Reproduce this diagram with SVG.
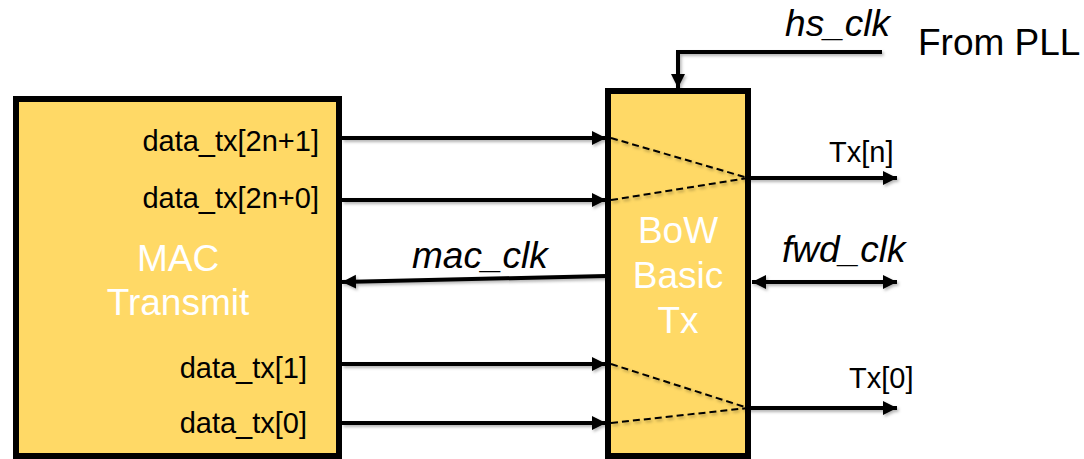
<svg xmlns="http://www.w3.org/2000/svg" width="1084" height="459" viewBox="0 0 1084 459">
<style>
.box{fill:#FFD966;stroke:#000;stroke-width:6}
.w{stroke:#000;stroke-width:4;fill:none}
.d{stroke:#000;stroke-width:2;stroke-dasharray:7 4;fill:none}
.t{font-family:"Liberation Sans",Arial,sans-serif;fill:#000}
.lbl{font-size:29px}
.big{font-size:37px}
.it{font-style:italic}
.wt{fill:#fff;font-size:37px;text-anchor:middle}
</style>
<defs>
<marker id="ah" markerUnits="userSpaceOnUse" markerWidth="16" markerHeight="16" refX="14" refY="7" orient="auto-start-reverse" viewBox="0 0 16 14">
<path d="M0,0 L14,7 L0,14 Z" fill="#000"/>
</marker>
<filter id="sh" x="-5%" y="-50%" width="110%" height="200%">
<feDropShadow dx="1.5" dy="2" stdDeviation="1.5" flood-color="#000" flood-opacity="0.3"/>
</filter>
</defs>
<g id="mac">
<rect class="box" x="16" y="99" width="323" height="357"/>
<text class="t lbl" x="319" y="151" text-anchor="end">data_tx[2n+1]</text>
<text class="t lbl" x="319" y="208" text-anchor="end">data_tx[2n+0]</text>
<text class="t lbl" x="307" y="378" text-anchor="end">data_tx[1]</text>
<text class="t lbl" x="307" y="433" text-anchor="end">data_tx[0]</text>
<text class="t wt" x="178" y="271">MAC</text>
<text class="t wt" x="178" y="315">Transmit</text>
</g>
<g id="bow">
<rect class="box" x="608" y="91" width="140" height="365"/>
<text class="t wt" x="678" y="243">BoW</text>
<text class="t wt" x="678" y="288">Basic</text>
<text class="t wt" x="678" y="333">Tx</text>
</g>
<g id="connectors" filter="url(#sh)">
<line class="w" x1="342" y1="138" x2="606" y2="138" marker-end="url(#ah)"/>
<line class="w" x1="342" y1="200" x2="606" y2="200" marker-end="url(#ah)"/>
<line class="w" x1="342" y1="364" x2="606" y2="364" marker-end="url(#ah)"/>
<line class="w" x1="342" y1="423" x2="606" y2="423" marker-end="url(#ah)"/>
<line class="d" x1="611" y1="138" x2="748" y2="178"/>
<line class="d" x1="611" y1="200" x2="748" y2="178"/>
<line class="d" x1="611" y1="364" x2="748" y2="408"/>
<line class="d" x1="611" y1="423" x2="748" y2="408"/>
<line class="w" x1="748" y1="178" x2="897" y2="178" marker-end="url(#ah)"/>
<line class="w" x1="748" y1="408" x2="897" y2="408" marker-end="url(#ah)"/>
<line class="w" x1="752" y1="282" x2="897" y2="282" marker-start="url(#ah)" marker-end="url(#ah)"/>
<line class="w" x1="606" y1="276" x2="342" y2="282" marker-end="url(#ah)"/>
<polyline class="w" points="882,52 678,52 678,88" marker-end="url(#ah)"/>
</g>
<g id="labels">
<text class="t big it" x="890" y="36" text-anchor="end">hs_clk</text>
<text class="t big" x="918" y="55">From PLL</text>
<text class="t lbl" x="829" y="162">Tx[n]</text>
<text class="t big it" x="782" y="262">fwd_clk</text>
<text class="t big it" x="412" y="268">mac_clk</text>
<text class="t lbl" x="849" y="388">Tx[0]</text>
</g>
</svg>
